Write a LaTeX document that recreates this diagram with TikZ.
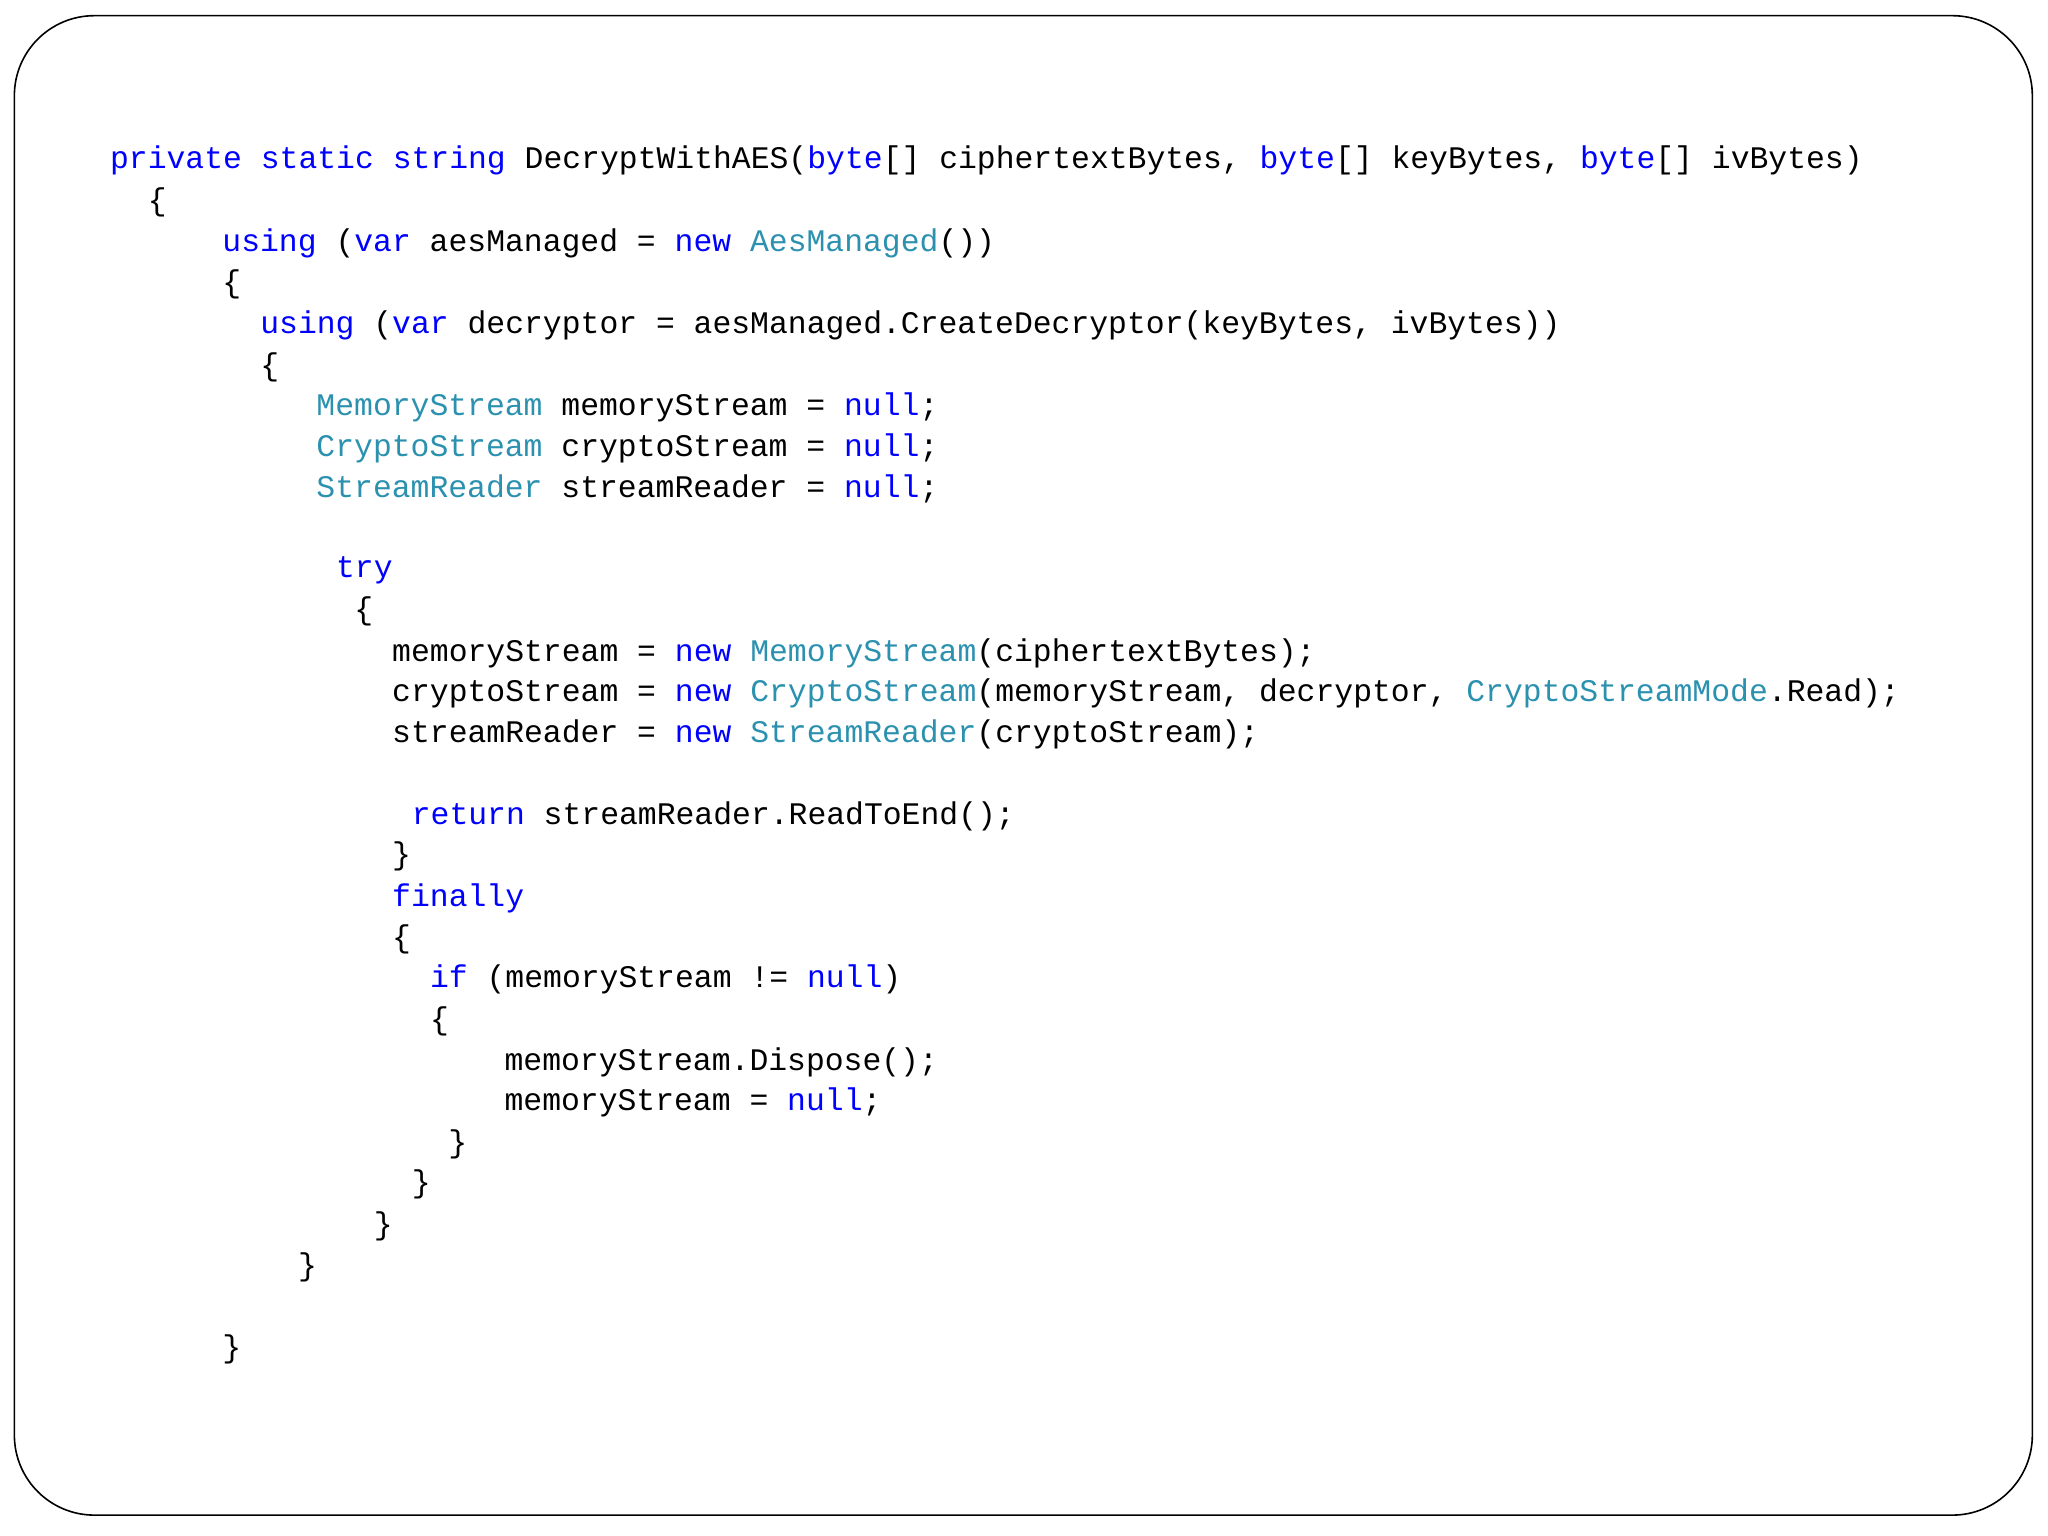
\documentclass[tikz,border=0pt]{standalone}
\usepackage{fontspec}
\setmonofont{Liberation Mono}
\definecolor{kw}{RGB}{0,0,255}
\definecolor{ty}{RGB}{43,145,175}
\newcommand{\kw}[1]{\textcolor{kw}{#1}}
\newcommand{\ty}[1]{\textcolor{ty}{#1}}
\begin{document}
\begin{tikzpicture}[x=0.653pt,y=-0.653pt,
  code/.style={anchor=west,inner sep=0pt,font=\ttfamily\fontsize{15.7pt}{18pt}\selectfont}]
\useasboundingbox (0,0) rectangle (1568,1176);
\draw[line width=0.8pt,rounded corners=40pt] (11,12) rectangle (1556,1160);
\node[code] (l1) at (84,123) {\kw{private} \kw{static} \kw{string} DecryptWithAES(\kw{byte}[] ciphertextBytes, \kw{byte}[] keyBytes, \kw{byte}[] ivBytes)};
\node[code] (l2) at (113,155) {\{};
\node[code] (l3) at (170,186) {\kw{using} (\kw{var} aesManaged = \kw{new} \ty{AesManaged}())};
\node[code] (l4) at (170,218) {\{};
\node[code] (l5) at (199,249) {\kw{using} (\kw{var} decryptor = aesManaged.CreateDecryptor(keyBytes, ivBytes))};
\node[code] (l6) at (199,281) {\{};
\node[code] (l7) at (242,312) {\ty{MemoryStream} memoryStream = \kw{null};};
\node[code] (l8) at (242,343) {\ty{CryptoStream} cryptoStream = \kw{null};};
\node[code] (l9) at (242,374) {\ty{StreamReader} streamReader = \kw{null};};
\node[code] (l10) at (257,437) {\kw{try}};
\node[code] (l11) at (271,468) {\{};
\node[code] (l12) at (300,500) {memoryStream = \kw{new} \ty{MemoryStream}(ciphertextBytes);};
\node[code] (l13) at (300,531) {cryptoStream = \kw{new} \ty{CryptoStream}(memoryStream, decryptor, \ty{CryptoStreamMode}.Read);};
\node[code] (l14) at (300,562) {streamReader = \kw{new} \ty{StreamReader}(cryptoStream);};
\node[code] (l15) at (315,625) {\kw{return} streamReader.ReadToEnd();};
\node[code] (l16) at (300,656) {\}};
\node[code] (l17) at (300,688) {\kw{finally}};
\node[code] (l18) at (300,719) {\{};
\node[code] (l19) at (329,750) {\kw{if} (memoryStream != \kw{null})};
\node[code] (l20) at (329,782) {\{};
\node[code] (l21) at (386,813) {memoryStream.Dispose();};
\node[code] (l22) at (386,844) {memoryStream = \kw{null};};
\node[code] (l23) at (343,876) {\}};
\node[code] (l24) at (315,907) {\}};
\node[code] (l25) at (286,939) {\}};
\node[code] (l26) at (228,970) {\}};
\node[code] (l27) at (170,1033) {\}};
\end{tikzpicture}
\end{document}
